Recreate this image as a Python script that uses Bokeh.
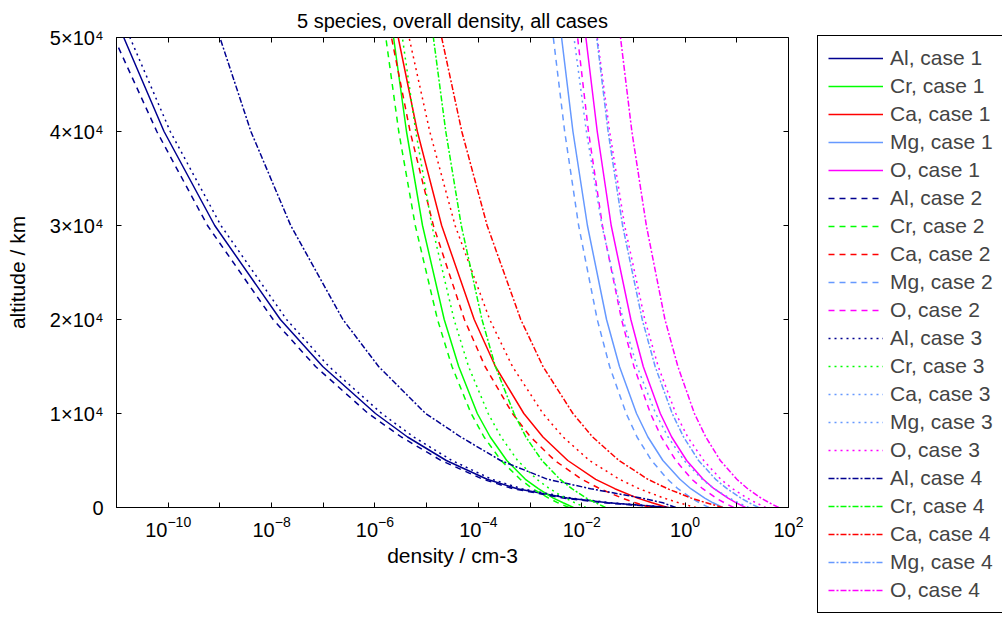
from bokeh.plotting import figure
from bokeh.models import (Range1d, FixedTicker, LinearAxis, Legend, LegendItem,
                          ColumnDataSource, CDSView, IndexFilter)
from bokeh.embed import file_html
from bokeh.resources import INLINE

# ---------------- data ----------------
altitude_km = [0, 500, 1000, 2000, 3000, 5000, 7500, 10000, 15000, 20000, 30000, 40000, 50000]

# log10 of density (cm-3) at the altitudes above
al_case1 = [-0.31, -1.49, -2.28, -3.25, -3.83, -4.62, -5.37, -5.99, -7.01, -7.83, -9.10, -10.08, -10.86]
cr_case1 = [-2.16, -2.36, -2.55, -2.84, -3.09, -3.45, -3.77, -4.02, -4.38, -4.66, -5.08, -5.39, -5.64]
ca_case1 = [-0.34, -0.64, -0.92, -1.36, -1.73, -2.27, -2.75, -3.12, -3.67, -4.08, -4.71, -5.18, -5.55]
mg_case1 = [0.73, 0.54, 0.38, 0.11, -0.10, -0.43, -0.72, -0.94, -1.27, -1.52, -1.89, -2.17, -2.39]
o_case1 = [1.17, 0.99, 0.83, 0.56, 0.35, 0.03, -0.26, -0.48, -0.81, -1.05, -1.43, -1.70, -1.92]

al_case2 = [-0.39, -1.57, -2.36, -3.33, -3.91, -4.72, -5.49, -6.13, -7.15, -7.97, -9.24, -10.22, -11.05]
cr_case2 = [-2.25, -2.46, -2.64, -2.95, -3.19, -3.56, -3.89, -4.14, -4.51, -4.79, -5.22, -5.54, -5.79]
ca_case2 = [-0.67, -0.96, -1.22, -1.65, -2.00, -2.52, -2.99, -3.34, -3.87, -4.27, -4.87, -5.32, -5.68]
mg_case2 = [0.46, 0.28, 0.12, -0.14, -0.34, -0.65, -0.93, -1.14, -1.46, -1.70, -2.06, -2.33, -2.55]
o_case2 = [0.94, 0.76, 0.60, 0.34, 0.13, -0.18, -0.46, -0.67, -0.99, -1.23, -1.60, -1.87, -2.08]

al_case3 = [-0.25, -1.42, -2.20, -3.16, -3.74, -4.51, -5.25, -5.87, -6.89, -7.71, -8.98, -9.96, -10.74]
cr_case3 = [-1.92, -2.13, -2.32, -2.62, -2.87, -3.24, -3.56, -3.81, -4.19, -4.47, -4.90, -5.21, -5.47]
ca_case3 = [0.21, -0.12, -0.41, -0.89, -1.27, -1.85, -2.36, -2.75, -3.34, -3.78, -4.45, -4.94, -5.34]
mg_case3 = [1.23, 1.03, 0.86, 0.56, 0.33, -0.02, -0.33, -0.57, -0.93, -1.20, -1.61, -1.91, -2.15]
o_case3 = [1.56, 1.37, 1.20, 0.92, 0.69, 0.36, 0.05, -0.18, -0.52, -0.78, -1.17, -1.46, -1.70]

al_case4 = [-0.18, -0.43, -0.84, -1.83, -2.66, -3.57, -4.34, -5.02, -5.93, -6.62, -7.63, -8.40, -9.00]
cr_case4 = [-1.54, -1.73, -1.91, -2.19, -2.42, -2.77, -3.08, -3.31, -3.67, -3.93, -4.33, -4.63, -4.87]
ca_case4 = [0.73, 0.41, 0.12, -0.34, -0.72, -1.28, -1.79, -2.17, -2.75, -3.18, -3.83, -4.32, -4.71]
mg_case4 = [1.42, 1.24, 1.08, 0.81, 0.59, 0.26, -0.03, -0.25, -0.58, -0.83, -1.21, -1.49, -1.71]
o_case4 = [1.81, 1.63, 1.47, 1.21, 1.00, 0.68, 0.40, 0.18, -0.14, -0.39, -0.75, -1.03, -1.25]

species = ["Al", "Cr", "Ca", "Mg", "O"]
cases = [1, 2, 3, 4]
series = {
    1: [al_case1, cr_case1, ca_case1, mg_case1, o_case1],
    2: [al_case2, cr_case2, ca_case2, mg_case2, o_case2],
    3: [al_case3, cr_case3, ca_case3, mg_case3, o_case3],
    4: [al_case4, cr_case4, ca_case4, mg_case4, o_case4],
}

x_ticks = [1e-10, 1e-8, 1e-6, 1e-4, 1e-2, 1e0, 1e2]
x_minor = [1e-11, 1e-9, 1e-7, 1e-5, 1e-3, 1e-1, 1e1]
y_ticks = [0, 10000, 20000, 30000, 40000, 50000]
y_labels = ["0", "1\u00d710\u2074", "2\u00d710\u2074", "3\u00d710\u2074", "4\u00d710\u2074", "5\u00d710\u2074"]

# ---------------- styles ----------------
colors = {"Al": "#000090", "Cr": "#00ff00", "Ca": "#ff0000", "Mg": "#6699ff", "O": "#ff00ff"}
dashes = {1: "solid", 2: "6 5", 3: "2 4", 4: "6 2 2 2"}
FONT = "Liberation Sans"

p = figure(x_axis_type="log", frame_width=672, frame_height=470,
           min_border_left=116, min_border_right=0, min_border_top=37,
           min_border_bottom=112, x_range=Range1d(1e-11, 1e2),
           y_range=Range1d(0, 50000), output_backend="svg",
           toolbar_location=None, title="5 species, overall density, all cases")

p.title.align = "center"
p.title.text_font = FONT
p.title.text_font_size = "20px"
p.title.text_font_style = "normal"
p.title.text_color = "black"
p.title.standoff = 12

p.grid.visible = False
p.outline_line_color = "black"
p.outline_line_width = 1
p.outline_line_alpha = 1

renderers = {}
sources = {}
for c in cases:
    for sp, vals in zip(species, series[c]):
        src = ColumnDataSource(dict(density=[10 ** v for v in vals], altitude=altitude_km))
        sources[(sp, c)] = src
        renderers[(sp, c)] = p.line("density", "altitude", source=src,
                                    line_color=colors[sp], line_width=1.5,
                                    line_dash=dashes[c])

xb = p.below[0]
yl = p.left[0]
xb.ticker = FixedTicker(ticks=x_ticks, minor_ticks=x_minor)
xb.axis_label = "density / cm-3"
yl.ticker = FixedTicker(ticks=y_ticks, minor_ticks=[])
yl.major_label_overrides = {t: l for t, l in zip(y_ticks, y_labels)}
yl.axis_label = "altitude / km"

# mirrored tick marks on the top edge and the right edge (no labels)
top = LinearAxis(ticker=FixedTicker(ticks=x_ticks, minor_ticks=x_minor))
top.major_tick_in = 5
top.major_tick_out = 0
top.minor_tick_in = 5
top.minor_tick_out = 0
p.add_layout(top, "above")

right = LinearAxis(ticker=FixedTicker(ticks=y_ticks, minor_ticks=[]),
                   fixed_location=1e2)
right.major_tick_in = 0
right.major_tick_out = 5
p.add_layout(right, "left")

for ax in [top, right]:
    ax.major_label_text_font_size = "0px"
    ax.major_label_standoff = 0
    ax.axis_line_color = None
    ax.major_tick_line_color = "black"
    ax.minor_tick_line_color = "black"

for ax in [xb, yl]:
    ax.major_tick_in = 5
    ax.major_tick_out = 0
    ax.minor_tick_in = 5
    ax.minor_tick_out = 0
    ax.major_tick_line_color = "black"
    ax.minor_tick_line_color = "black"
    ax.axis_line_color = "black"
    ax.major_label_text_font = FONT
    ax.major_label_text_font_size = "20px"
    ax.major_label_text_color = "black"
    ax.axis_label_text_font = FONT
    ax.axis_label_text_font_size = "21px"
    ax.axis_label_text_font_style = "normal"
    ax.axis_label_text_color = "black"
xb.major_label_standoff = 8
xb.axis_label_standoff = 4
yl.major_label_standoff = 13
yl.axis_label_standoff = 18

# ---------------- legend (outside, right of the axes) ----------------
# the reference legend shows "Ca, case 3" in the Mg colour: a renderer of the
# Ca case 3 data restricted to a single point (so it draws nothing in the
# axes), styled like Mg case 3
ca3_legend = p.line("density", "altitude", source=sources[("Ca", 3)],
                    view=CDSView(filter=IndexFilter([0])),
                    line_color=colors["Mg"], line_width=1.5, line_dash=dashes[3])
items = []
for c in cases:
    for sp in species:
        r = ca3_legend if (sp == "Ca" and c == 3) else renderers[(sp, c)]
        items.append(LegendItem(label=f"{sp}, case {c}", renderers=[r]))

legend = Legend(items=items, location=(29, -106))
legend.label_text_font = FONT
legend.label_text_font_size = "21px"
legend.glyph_width = 55
legend.glyph_height = 24
legend.label_height = 24
legend.label_width = 101
legend.label_standoff = 7
legend.spacing = 4
legend.padding = 10
legend.margin = 0
legend.border_line_color = "black"
legend.border_line_width = 1
legend.border_line_alpha = 1
legend.background_fill_alpha = 1
p.add_layout(legend, "right")

open("out.html", "w").write(file_html(p, INLINE))
